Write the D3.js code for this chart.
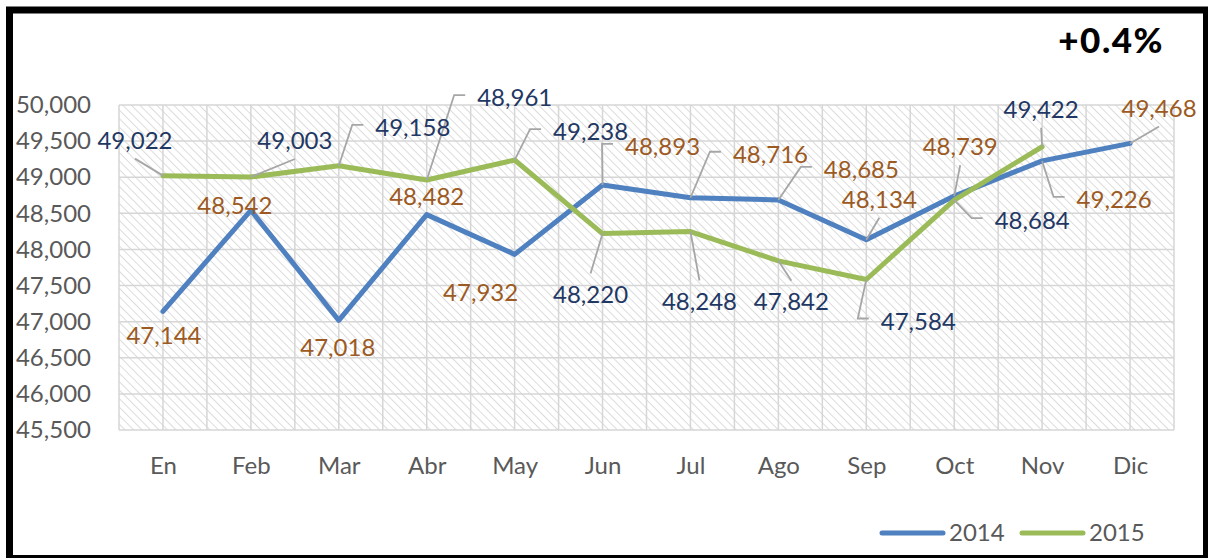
<!DOCTYPE html>
<html>
<head>
<meta charset="utf-8">
<script src="https://cdn.jsdelivr.net/npm/d3@7"></script>
<style>
  html, body { margin: 0; padding: 0; background: #fff; }
  svg { display: block; }
  text { font-family: Lato, "Open Sans", sans-serif; }
</style>
</head>
<body>
<svg id="chart" width="1208" height="558"></svg>
<script>
// Monthly values, 2014 vs 2015
const months = ["En", "Feb", "Mar", "Abr", "May", "Jun", "Jul", "Ago", "Sep", "Oct", "Nov", "Dic"];
const values2014 = [47144, 48542, 47018, 48482, 47932, 48893, 48716, 48685, 48134, 48739, 49226, 49468];
const values2015 = [49022, 49003, 49158, 48961, 49238, 48220, 48248, 47842, 47584, 48684, 49422];
const yTickValues = [45500, 46000, 46500, 47000, 47500, 48000, 48500, 49000, 49500, 50000];
const seriesNames = ["2014", "2015"];
const changeText = "+0.4%";

// Label placement: offset of the label centre from its point, and leader style
// (b = leader to label bottom, t = to label top, l = elbow into label's left side, "" = none)
const place2014 = [
  [1, 24, ""], [-16, -5, ""], [-1, 27, ""], [0, -18, ""], [-34, 38, ""], [60, -38, "l"],
  [80, -43, "l"], [83, -30, "l"], [13, -40, "b"], [6, -49, "b"], [72, 39, "l"], [29, -35, "b"]
];
const place2015 = [
  [-28, -35, "b"], [44, -36, "b"], [74, -38, "l"], [88, -82, "l"], [76, -28, "l"], [-12, 61, "t"],
  [9, 70, "t"], [13, 41, "t"], [52, 42, "l"], [78, 21, "l"], [-1, -37, "b"]
];

const svg = d3.select("#chart");
const plot = { left: 119, right: 1174, top: 105, bottom: 430 };

const x = d3.scalePoint().domain(months).range([plot.left, plot.right]).padding(0.5);
const y = d3.scaleLinear().domain([45500, 50000]).range([plot.bottom, plot.top]);
const fmt = d3.format(",");

const colors = { s2014: "#4f80bf", s2015: "#9bbb59", lab2014: "#9c5a22", lab2015: "#1f3864", axis: "#595959", leader: "#a6a6a6", grid: "#d6d6d6" };

// hatched plot background
const defs = svg.append("defs");
const pat = defs.append("pattern")
  .attr("id", "hatch").attr("patternUnits", "userSpaceOnUse")
  .attr("width", 6).attr("height", 6)
  .attr("patternTransform", "rotate(-45)");
pat.append("rect").attr("width", 6).attr("height", 6).attr("fill", "#ffffff");
pat.append("line").attr("x1", 0).attr("y1", 0).attr("x2", 0).attr("y2", 6)
  .attr("stroke", "#dcdcdc").attr("stroke-width", 2);

svg.append("rect").attr("x", plot.left).attr("y", plot.top)
  .attr("width", plot.right - plot.left).attr("height", plot.bottom - plot.top)
  .attr("fill", "url(#hatch)");

// gridlines: horizontal at every tick, vertical at category centres and edges
const g = svg.append("g").attr("stroke", colors.grid).attr("stroke-width", 1.5);
g.selectAll("line.h").data(yTickValues).join("line").attr("class", "h")
  .attr("x1", plot.left).attr("x2", plot.right)
  .attr("y1", d => y(d)).attr("y2", d => y(d));
const half = x.step() / 2;
const vPos = d3.range(0, months.length * 2 + 1).map(i => plot.left + i * half);
g.selectAll("line.v").data(vPos).join("line").attr("class", "v")
  .attr("x1", d => d).attr("x2", d => d)
  .attr("y1", plot.top).attr("y2", plot.bottom);

// axes
const yAxis = svg.append("g").attr("transform", `translate(${plot.left - 28},0)`)
  .call(d3.axisLeft(y).tickValues(yTickValues).tickFormat(fmt).tickSize(0).tickPadding(0));
yAxis.select(".domain").remove();
yAxis.selectAll("text").attr("fill", colors.axis).style("font-size", "24px").style("font-family", "Lato, sans-serif");

const xAxis = svg.append("g").attr("transform", `translate(0,${plot.bottom + 27})`)
  .call(d3.axisBottom(x).tickSize(0).tickPadding(0));
xAxis.select(".domain").remove();
xAxis.selectAll("text").attr("fill", colors.axis).style("font-size", "24px").style("font-family", "Lato, sans-serif");

// series
const series = [
  { name: seriesNames[0], values: values2014, color: colors.s2014, labColor: colors.lab2014, place: place2014 },
  { name: seriesNames[1], values: values2015, color: colors.s2015, labColor: colors.lab2015, place: place2015 }
];
const line = d3.line().x((d, i) => x(months[i])).y(d => y(d));

series.forEach(s => {
  svg.append("path").datum(s.values)
    .attr("d", line).attr("fill", "none")
    .attr("stroke", s.color).attr("stroke-width", 5)
    .attr("stroke-linejoin", "round").attr("stroke-linecap", "round");
});

// data labels with leader lines
const leaders = svg.append("g").attr("fill", "none").attr("stroke", colors.leader).attr("stroke-width", 1.8);
const labels = svg.append("g");
series.forEach(s => {
  s.values.forEach((v, i) => {
    const px = x(months[i]), py = y(v);
    const [dx, dy, mode] = s.place[i];
    const cx = px + dx, cy = py + dy;
    const t = labels.append("text")
      .attr("x", cx).attr("y", cy).attr("dy", "0.35em")
      .attr("text-anchor", "middle")
      .attr("fill", s.labColor).style("font-size", "24px")
      .text(fmt(v));
    const w = t.node().getComputedTextLength();
    let pts = null;
    if (mode === "b") pts = [[px, py], [cx, cy + 18]];
    else if (mode === "t") pts = [[px, py], [cx, cy - 21]];
    else if (mode === "l") {
      const left = cx - w / 2;
      const ey = cy - 3;
      pts = [[px, py], [left - 23, ey], [left - 12, ey]];
    }
    if (pts) leaders.append("path").attr("d", d3.line()(pts));
  });
});

// headline change
svg.append("text").attr("x", 1164).attr("y", 53).attr("text-anchor", "end")
  .attr("fill", "#000").style("font-size", "35px").style("font-weight", "900")
  .style("letter-spacing", "1.5px")
  .text(changeText);

// legend
const legend = svg.append("g");
series.forEach((s, i) => {
  const lx = 882 + i * 140;
  legend.append("line").attr("x1", lx).attr("x2", lx + 61).attr("y1", 533).attr("y2", 533)
    .attr("stroke", s.color).attr("stroke-width", 5).attr("stroke-linecap", "round");
  legend.append("text").attr("x", lx + 67).attr("y", 533).attr("dy", "0.35em")
    .attr("fill", colors.axis).style("font-size", "24px").text(s.name);
});

// frame
svg.append("rect").attr("x", 9.5).attr("y", 10).attr("width", 1197).attr("height", 548.5)
  .attr("fill", "none").attr("stroke", "#000").attr("stroke-width", 7);
</script>
</body>
</html>
